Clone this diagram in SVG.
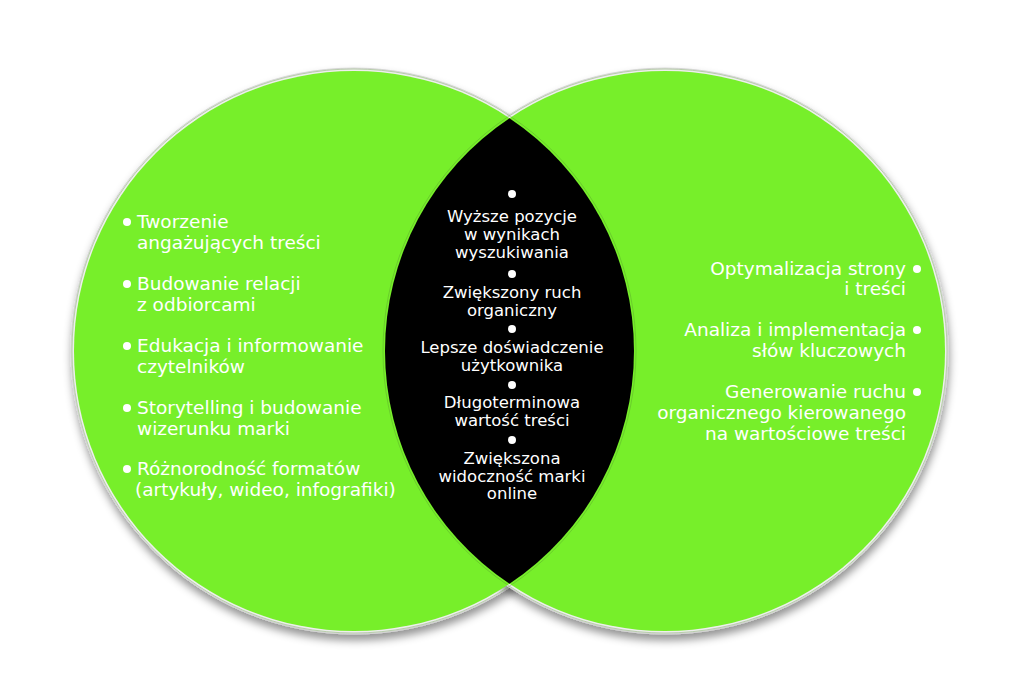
<svg xmlns="http://www.w3.org/2000/svg" width="1024" height="682" viewBox="0 0 1024 682">
  <defs>
    <filter id="shadow" x="-20%" y="-20%" width="140%" height="140%">
      <feDropShadow dx="1" dy="6" stdDeviation="4" flood-color="#000" flood-opacity="0.42"/>
    </filter>
    <style>
      .ring { fill: #eeeeee; stroke: #cfcfcf; stroke-width: 0.8; }
      .green { fill: #77ef2a; }
      .edge { fill: none; stroke: #4f8f2a; stroke-opacity: 0.35; stroke-width: 1; }
      .t { font-family: "DejaVu Sans", "Liberation Sans", sans-serif; fill: #ffffff; }
      .side { font-size: 18.5px; }
      .mid { font-size: 16.5px; text-anchor: middle; }
      .end { text-anchor: end; }
      .dot { fill: #ffffff; }
    </style>
  </defs>
  <rect width="1024" height="682" fill="#ffffff"/>

  <g id="left-circle">
    <circle class="ring" cx="354" cy="351" r="283" filter="url(#shadow)"/>
  </g>
  <g id="right-circle">
    <circle class="ring" cx="665" cy="351" r="283" filter="url(#shadow)"/>
  </g>
  <g id="fills">
    <circle class="green" cx="354" cy="351" r="280"/>
    <circle class="green" cx="665" cy="351" r="280"/>
  </g>
  <g id="overlap">
    <path d="M509.5 118.15 A280 280 0 0 1 509.5 583.85 A280 280 0 0 1 509.5 118.15 Z" fill="#000000"/>
  </g>
  <g id="outlines">
    <circle class="edge" cx="354" cy="351" r="282"/>
    <circle class="edge" cx="665" cy="351" r="282"/>
  </g>

  <g id="left-items" class="t side">
    <circle class="dot" cx="127" cy="222" r="4"/>
    <text x="137" y="228">Tworzenie</text>
    <text x="137" y="249">angażujących treści</text>
    <circle class="dot" cx="127" cy="284" r="4"/>
    <text x="137" y="290">Budowanie relacji</text>
    <text x="137" y="311">z odbiorcami</text>
    <circle class="dot" cx="127" cy="346" r="4"/>
    <text x="137" y="352">Edukacja i informowanie</text>
    <text x="137" y="373">czytelników</text>
    <circle class="dot" cx="127" cy="408" r="4"/>
    <text x="137" y="414">Storytelling i budowanie</text>
    <text x="137" y="435">wizerunku marki</text>
    <circle class="dot" cx="127" cy="469" r="4"/>
    <text x="137" y="475">Różnorodność formatów</text>
    <text x="135" y="496">(artykuły, wideo, infografiki)</text>
  </g>

  <g id="center-items" class="t mid">
    <circle class="dot" cx="512" cy="194" r="4"/>
    <text x="512" y="222">Wyższe pozycje</text>
    <text x="512" y="240">w wynikach</text>
    <text x="512" y="258">wyszukiwania</text>
    <circle class="dot" cx="512" cy="274" r="4"/>
    <text x="512" y="298">Zwiększony ruch</text>
    <text x="512" y="316">organiczny</text>
    <circle class="dot" cx="512" cy="329" r="4"/>
    <text x="512" y="353">Lepsze doświadczenie</text>
    <text x="512" y="371">użytkownika</text>
    <circle class="dot" cx="512" cy="385" r="4"/>
    <text x="512" y="408">Długoterminowa</text>
    <text x="512" y="426">wartość treści</text>
    <circle class="dot" cx="512" cy="440" r="4"/>
    <text x="512" y="464">Zwiększona</text>
    <text x="512" y="482">widoczność marki</text>
    <text x="512" y="499">online</text>
  </g>

  <g id="right-items" class="t side end">
    <circle class="dot" cx="917" cy="269" r="4"/>
    <text x="906" y="275">Optymalizacja strony</text>
    <text x="906" y="295">i treści</text>
    <circle class="dot" cx="917" cy="330" r="4"/>
    <text x="906" y="336">Analiza i implementacja</text>
    <text x="906" y="357">słów kluczowych</text>
    <circle class="dot" cx="917" cy="392" r="4"/>
    <text x="906" y="398">Generowanie ruchu</text>
    <text x="906" y="419">organicznego kierowanego</text>
    <text x="906" y="440">na wartościowe treści</text>
  </g>
</svg>
